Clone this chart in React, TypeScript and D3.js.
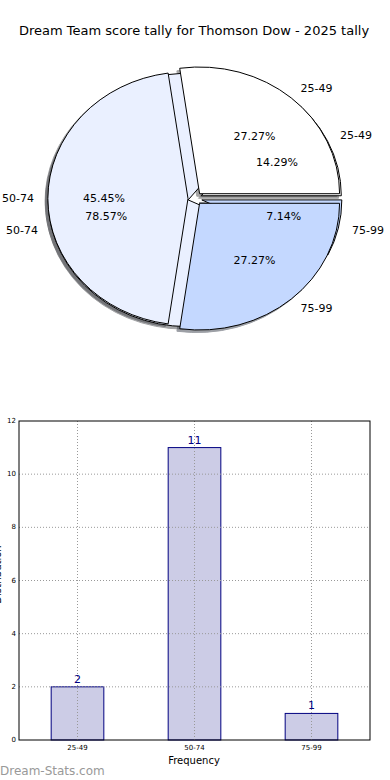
import React from 'react'
import * as d3 from 'd3'

const title = 'Dream Team score tally for Thomson Dow - 2025 tally'
const categories = ['25-49', '50-74', '75-99']
const upperPie = [3, 5, 3]
const lowerPie = [2, 11, 1]
const barCounts = [2, 11, 1]
const yTicks = [0, 2, 4, 6, 8, 10, 12]
const sliceColors = ['#ffffff', '#eaf0ff', '#c4d8ff']

const W = 390
const H = 780
const font = '"DejaVu Sans", sans-serif'

// pie geometry (axes not square, so the pie comes out as an ellipse)
const cx = 195
const cy = 198.5
const rx = 140
const ry = 126.7
const explode = 0.05

const pieGen = d3
	.pie<number>()
	.sort(null)
	.startAngle(Math.PI / 2)
	.endAngle(Math.PI / 2 - 2 * Math.PI)
const unitArc = d3.arc<d3.PieArcDatum<number>>().innerRadius(0).outerRadius(1)

const shade = (c: string) => {
	const col = d3.rgb(c)
	return d3.rgb(col.r * 0.3, col.g * 0.3, col.b * 0.3).toString()
}

const dir = (a: d3.PieArcDatum<number>) => {
	const m = (a.startAngle + a.endAngle) / 2
	return [Math.sin(m), -Math.cos(m)]
}

const pieLayers = [lowerPie, upperPie].map((vals) => {
	const total = d3.sum(vals)
	return pieGen(vals).map((a, i) => {
		const [ux, uy] = dir(a)
		return {
			a,
			i,
			ux,
			uy,
			pct: ((vals[i] / total) * 100).toFixed(2) + '%',
			ox: cx + explode * rx * ux,
			oy: cy + explode * ry * uy,
		}
	})
})

// bar chart
const plot = { left: 19, right: 370, top: 421, bottom: 740 }
const xScale = d3.scaleLinear().domain([-0.5, 2.5]).range([plot.left, plot.right])
const yScale = d3.scaleLinear().domain([0, 12]).range([plot.bottom, plot.top])
const barW = 0.45

export default function App() {
	return (
		<div style={{ position: 'absolute', left: 0, top: 0 }}>
			<svg width={W} height={H} viewBox={`0 0 ${W} ${H}`} style={{ display: 'block', background: '#fff' }}>
				<text x={194} y={35} textAnchor="middle" fontFamily={font} fontSize={13} fill="#000">
					{title}
				</text>

				{/* shadows go under every wedge */}
				{pieLayers.map((layer, li) =>
					layer.map((w) => (
						<path
							key={`s${li}-${w.i}`}
							d={unitArc(w.a) || ''}
							transform={`translate(${w.ox - 0.02 * rx},${w.oy + 0.02 * ry}) scale(${rx},${ry})`}
							fill={shade(sliceColors[w.i])}
							stroke={shade(sliceColors[w.i])}
							strokeWidth={1}
							vectorEffect="non-scaling-stroke"
							opacity={0.5}
						/>
					))
				)}
				{pieLayers.map((layer, li) =>
					layer.map((w) => (
						<path
							key={`w${li}-${w.i}`}
							d={unitArc(w.a) || ''}
							transform={`translate(${w.ox},${w.oy}) scale(${rx},${ry})`}
							fill={sliceColors[w.i]}
							stroke="#000"
							strokeWidth={1}
							strokeLinejoin="round"
							vectorEffect="non-scaling-stroke"
						/>
					))
				)}
				{pieLayers.map((layer, li) =>
					layer.map((w) => (
						<g key={`t${li}-${w.i}`} fontFamily={font} fontSize={11} fill="#000">
							<text
								x={cx + (explode + 1.1) * rx * w.ux}
								y={cy + (explode + 1.1) * ry * w.uy}
								textAnchor={w.ux > 0 ? 'start' : 'end'}
								dominantBaseline="central"
							>
								{categories[w.i]}
							</text>
							<text
								x={cx + (explode + 0.6) * rx * w.ux}
								y={cy + (explode + 0.6) * ry * w.uy}
								textAnchor="middle"
								dominantBaseline="central"
							>
								{w.pct}
							</text>
						</g>
					))
				)}

				{/* bar chart */}
				{barCounts.map((v, i) => (
					<rect
						key={`b${i}`}
						x={xScale(i - barW / 2)}
						y={yScale(v)}
						width={xScale(barW) - xScale(0)}
						height={yScale(0) - yScale(v)}
						fill="#cccce6"
						stroke="#000080"
						strokeWidth={1}
					/>
				))}
				{yTicks.slice(1, -1).map((t) => (
					<line
						key={`gy${t}`}
						x1={plot.left}
						x2={plot.right}
						y1={yScale(t)}
						y2={yScale(t)}
						stroke="#999"
						strokeWidth={1}
						strokeDasharray="1,2"
					/>
				))}
				{categories.map((c, i) => (
					<line
						key={`gx${c}`}
						x1={xScale(i)}
						x2={xScale(i)}
						y1={plot.top}
						y2={plot.bottom}
						stroke="#999"
						strokeWidth={1}
						strokeDasharray="1,2"
					/>
				))}
				<rect
					x={plot.left}
					y={plot.top}
					width={plot.right - plot.left}
					height={plot.bottom - plot.top}
					fill="none"
					stroke="#000"
					strokeWidth={1}
				/>
				{barCounts.map((v, i) => (
					<text
						key={`v${i}`}
						x={xScale(i)}
						y={yScale(v) - 4}
						textAnchor="middle"
						fontFamily={font}
						fontSize={11}
						fill="#000080"
					>
						{v}
					</text>
				))}
				{yTicks.map((t) => (
					<text
						key={`yt${t}`}
						x={plot.left - 3}
						y={yScale(t)}
						textAnchor="end"
						dominantBaseline="central"
						fontFamily={font}
						fontSize={7}
						fill="#000"
					>
						{t}
					</text>
				))}
				{categories.map((c, i) => (
					<text
						key={`xt${c}`}
						x={xScale(i)}
						y={plot.bottom + 10}
						textAnchor="middle"
						fontFamily={font}
						fontSize={7}
						fill="#000"
					>
						{c}
					</text>
				))}
				<text x={194} y={764} textAnchor="middle" fontFamily={font} fontSize={10} fill="#000">
					Frequency
				</text>
				{/* y label sits mostly outside the left edge, as in the original */}
				<text
					transform={`translate(1,${(plot.top + plot.bottom) / 2 - 6}) rotate(-90)`}
					textAnchor="middle"
					fontFamily={font}
					fontSize={10}
					fill="#000"
				>
					Distribution
				</text>
				<text x={0} y={775} fontFamily={font} fontSize={12} fill="#999">
					Dream-Stats.com
				</text>
			</svg>
		</div>
	)
}
